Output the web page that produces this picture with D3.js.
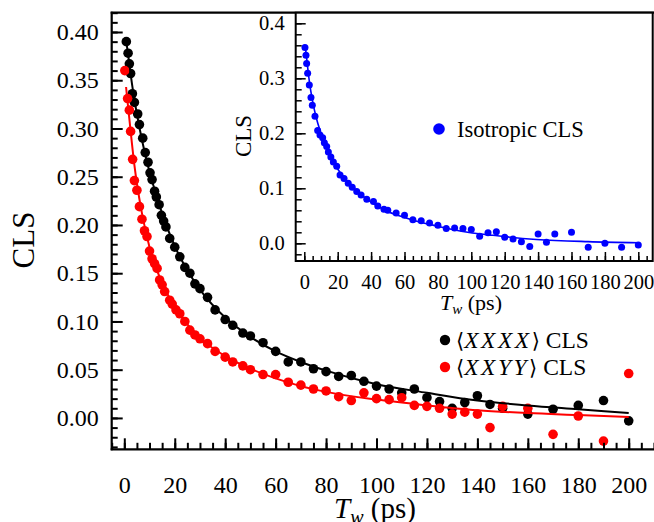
<!DOCTYPE html>
<html>
<head>
<meta charset="utf-8">
<script src="https://cdn.jsdelivr.net/npm/d3@7/dist/d3.min.js"></script>
<style>
  html, body { margin: 0; padding: 0; background: #fff; }
  svg { display: block; }
  svg text { font-family: "Liberation Serif", "Times New Roman", "DejaVu Serif", serif; fill: #000; }
</style>
</head>
<body>
<svg id="chart" width="654" height="522"></svg>
<script>
// ---- data: waiting time Tw (ps) and CLS values ----
const twXXXX = [0.8, 1.5, 2, 2.5, 3.2, 4, 5.3, 6, 7.3, 8.3, 9.4, 10.2, 11, 12, 12.7, 13.8, 14.7, 15.6, 16.5, 18,
  20, 22, 24, 26, 28, 30, 33, 36, 40, 43, 47, 50, 55, 60, 65, 70, 75, 80, 85, 90,
  95, 100, 105, 110, 115, 120, 125, 130, 135, 140, 145, 150, 160, 170, 180, 190, 200];
const clsXXXX = [0.390, 0.378, 0.367, 0.357, 0.336, 0.327, 0.315, 0.304, 0.290, 0.275, 0.265, 0.254, 0.247, 0.235, 0.229, 0.221, 0.210, 0.204, 0.198, 0.186,
  0.177, 0.167, 0.156, 0.150, 0.139, 0.134, 0.125, 0.112, 0.102, 0.096, 0.088, 0.085, 0.078, 0.069, 0.058, 0.058, 0.051, 0.048, 0.043, 0.044,
  0.038, 0.033, 0.030, 0.026, 0.030, 0.021, 0.017, 0.010, 0.016, 0.023, 0.014, 0.010, 0.004, 0.009, 0.013, 0.018, -0.003];

const twXXYY = [0.2, 1.3, 2, 2.5, 3.3, 4, 5, 6, 7, 8, 9, 10, 11, 12, 13, 14, 15, 16, 18, 19,
  20.5, 22, 24, 26, 28, 30, 33, 36, 40, 43, 47, 50, 55, 60, 65, 70, 75, 80, 85, 90,
  95, 100, 105, 110, 115, 120, 125, 130, 135, 140, 145, 150, 160, 170, 180, 190, 200];
const clsXXYY = [0.360, 0.331, 0.319, 0.297, 0.268, 0.246, 0.236, 0.219, 0.206, 0.194, 0.188, 0.173, 0.165, 0.160, 0.155, 0.143, 0.138, 0.131, 0.122, 0.118,
  0.112, 0.108, 0.100, 0.091, 0.086, 0.082, 0.077, 0.069, 0.063, 0.058, 0.054, 0.050, 0.045, 0.045, 0.037, 0.034, 0.030, 0.028, 0.022, 0.018,
  0.026, 0.020, 0.019, 0.021, 0.013, 0.012, 0.010, 0.004, 0.006, 0.004, -0.010, 0.012, 0.010, -0.017, 0.002, -0.024, 0.046];

const twIso = [0.4, 1, 1.4, 2, 3, 4, 4.8, 6.4, 8, 9.4, 11, 12, 13.4, 14.4, 15.9, 17.4, 19.4, 21.4, 23.8, 26.3,
  28.7, 31.4, 34, 37.4, 41.4, 44, 47.7, 50, 55, 60, 65, 70, 75, 80, 85, 90, 95, 100,
  105, 110, 115, 120, 125, 130, 135, 140, 145, 150, 160, 170, 180, 190, 200];
const clsIso = [0.356, 0.342, 0.327, 0.309, 0.288, 0.265, 0.251, 0.231, 0.205, 0.197, 0.192, 0.183, 0.176, 0.166, 0.157, 0.148, 0.140, 0.124, 0.118, 0.109,
  0.102, 0.094, 0.088, 0.080, 0.076, 0.068, 0.062, 0.060, 0.055, 0.051, 0.043, 0.041, 0.037, 0.033, 0.027, 0.028, 0.027, 0.025,
  0.013, 0.019, 0.021, 0.011, 0.008, 0.003, -0.006, 0.017, 0.002, 0.017, 0.020, -0.007, 0.000, -0.007, -0.003];

// fitted decay curves, sampled at knots
const fitTwXXXX = [0.8, 2, 3, 4, 5, 7, 10, 12, 15, 20, 25, 30, 40, 50, 60, 70, 80, 100, 120, 140, 160, 180, 200];
const fitXXXX   = [0.390, 0.367, 0.347, 0.330, 0.315, 0.288, 0.255, 0.237, 0.212, 0.178, 0.153, 0.133, 0.104, 0.084, 0.069, 0.058, 0.049, 0.035, 0.026, 0.018, 0.013, 0.009, 0.005];
const fitTwXXYY = [0.7, 1, 2, 3, 4, 5, 7, 10, 12, 15, 20, 25, 30, 40, 50, 60, 70, 80, 100, 120, 140, 160, 180, 200];
const fitXXYY   = [0.343, 0.335, 0.310, 0.285, 0.262, 0.243, 0.212, 0.177, 0.160, 0.140, 0.115, 0.097, 0.083, 0.064, 0.051, 0.041, 0.033, 0.027, 0.019, 0.013, 0.008, 0.005, 0.003, 0.001];
const fitTwIso  = [0.5, 1, 2, 3, 5, 7, 10, 15, 20, 25, 30, 40, 50, 60, 70, 80, 94, 113, 139, 170, 200];
const fitIso    = [0.358, 0.347, 0.320, 0.295, 0.258, 0.230, 0.200, 0.163, 0.135, 0.115, 0.099, 0.075, 0.058, 0.047, 0.038, 0.031, 0.022, 0.0145, 0.007, 0.003, 0.001];

// ticks and labels
const mainXTicks = [0, 20, 40, 60, 80, 100, 120, 140, 160, 180, 200];
const mainYTicks = [0.00, 0.05, 0.10, 0.15, 0.20, 0.25, 0.30, 0.35, 0.40];
const insetXTicks = [0, 20, 40, 60, 80, 100, 120, 140, 160, 180, 200];
const insetYTicks = [0.0, 0.1, 0.2, 0.3, 0.4];
const legendMain = [{ tag: "XXXX", color: "#000000" }, { tag: "XXYY", color: "#ff0000" }];
const legendIso = "Isotropic CLS";

const SERIF = '"Liberation Serif", "Times New Roman", serif';
const svg = d3.select("#chart");
svg.append("rect").attr("width", 654).attr("height", 522).attr("fill", "#fff");

// ---- main panel ----
const M = { left: 111.7, top: 12.7, bottom: 449.3 };
const x = d3.scaleLinear().domain([-5, 210.5]).range([M.left, M.left + 215.5 * 2.522]);
const y = d3.scaleLinear().domain([-0.0325, 0.42]).range([M.bottom, M.top]);

const gMain = svg.append("g");

function series(g, xs, ys, tw, vals, color, r) {
  const pts = tw.map((t, i) => [t, vals[i]]);
  g.append("g").selectAll("circle").data(pts).join("circle")
    .attr("cx", d => xs(d[0])).attr("cy", d => ys(d[1])).attr("r", r).attr("fill", color);
}
function fitLine(g, xs, ys, tw, vals, color, w) {
  const pts = tw.map((t, i) => [t, vals[i]]);
  g.append("path").datum(pts)
    .attr("d", d3.line().x(d => xs(d[0])).y(d => ys(d[1])).curve(d3.curveMonotoneX))
    .attr("fill", "none").attr("stroke", color).attr("stroke-width", w);
}

series(gMain, x, y, twXXXX, clsXXXX, "#000", 4.8);
series(gMain, x, y, twXXYY, clsXXYY, "#ff0000", 4.8);
fitLine(gMain, x, y, fitTwXXXX, fitXXXX, "#000", 2);
fitLine(gMain, x, y, fitTwXXYY, fitXXYY, "#ff0000", 2);

// main axes with inward ticks
const minorX = d3.range(-5, 211, 5);
const minorY = d3.range(-30, 421, 10).map(v => v / 1000);
gMain.append("g").attr("transform", `translate(0,${M.bottom})`)
  .call(d3.axisBottom(x).tickValues(minorX).tickSize(-6.5).tickFormat(""));
gMain.append("g").attr("class", "mx").attr("transform", `translate(0,${M.bottom})`)
  .call(d3.axisBottom(x).tickValues(mainXTicks).tickSize(-11).tickPadding(27).tickFormat(d3.format("d")));
gMain.append("g").attr("transform", `translate(${M.left},0)`)
  .call(d3.axisLeft(y).tickValues(minorY).tickSize(-6).tickFormat(""));
gMain.append("g").attr("class", "my").attr("transform", `translate(${M.left},0)`)
  .call(d3.axisLeft(y).tickValues(mainYTicks).tickSize(-11).tickPadding(13).tickFormat(d3.format(".2f")));
gMain.selectAll(".domain").remove();
gMain.selectAll(".tick line").attr("stroke", "#000").attr("stroke-width", 2);
gMain.selectAll(".mx text, .my text").style("font-size", "24px").style("font-family", SERIF);

// frame lines
gMain.append("line").attr("x1", M.left).attr("x2", M.left).attr("y1", M.top - 1).attr("y2", M.bottom + 1).attr("stroke", "#000").attr("stroke-width", 2.2);
gMain.append("line").attr("x1", M.left - 1).attr("x2", 654).attr("y1", M.bottom).attr("y2", M.bottom).attr("stroke", "#000").attr("stroke-width", 2.2);
gMain.append("line").attr("x1", M.left - 1).attr("x2", 654).attr("y1", M.top).attr("y2", M.top).attr("stroke", "#000").attr("stroke-width", 2.2);

// axis titles
svg.append("text").attr("transform", "translate(34,240) rotate(-90)").attr("text-anchor", "middle")
  .style("font-size", "31px").style("font-family", SERIF).text("CLS");
const xt = svg.append("text").attr("x", 375).attr("y", 518).attr("text-anchor", "middle")
  .style("font-size", "29px").style("font-family", SERIF);
xt.append("tspan").attr("font-style", "italic").text("T");
xt.append("tspan").attr("font-style", "italic").style("font-size", "20px").attr("dy", 6).text("w");
xt.append("tspan").attr("dy", -6).text(" (ps)");

// main legend
legendMain.forEach((d, i) => {
  const ly = 340 + i * 27;
  svg.append("circle").attr("cx", 445).attr("cy", ly).attr("r", 5.2).attr("fill", d.color);
  const t = svg.append("text").attr("x", 456).attr("y", ly + 8).style("font-size", "23.5px").style("font-family", SERIF);
  t.append("tspan").style("font-family", '"DejaVu Serif", serif').style("font-size", "21px").text("\u27E8");
  t.append("tspan").attr("font-style", "italic").attr("letter-spacing", 2.5).text(d.tag);
  t.append("tspan").style("font-family", '"DejaVu Serif", serif').style("font-size", "21px").text("\u27E9");
  t.append("tspan").text(" CLS");
});

// ---- inset panel ----
const I = { left: 295.7, right: 652.7, top: 12.7, bottom: 261 };
const xi = d3.scaleLinear().domain([0, 200]).range([304.3, 638.3]);
const yi = d3.scaleLinear().domain([0, 0.4]).range([243.3, 23.3]);
const gIn = svg.append("g");
gIn.append("rect").attr("x", I.left).attr("y", I.top).attr("width", I.right - I.left).attr("height", I.bottom - I.top).attr("fill", "#fff");

fitLine(gIn, xi, yi, fitTwIso, fitIso, "#0000ff", 1.6);
series(gIn, xi, yi, twIso, clsIso, "#0000ff", 3.5);

const minorXi = d3.range(0, 206, 5);
const minorYi = d3.range(-2, 42, 2).map(v => v / 100);
gIn.append("g").attr("transform", `translate(0,${I.bottom})`)
  .call(d3.axisBottom(xi).tickValues(minorXi).tickSize(-5).tickFormat(""));
gIn.append("g").attr("class", "ix").attr("transform", `translate(0,${I.bottom})`)
  .call(d3.axisBottom(xi).tickValues(insetXTicks).tickSize(-9).tickPadding(13).tickFormat(d3.format("d")));
gIn.append("g").attr("transform", `translate(${I.left},0)`)
  .call(d3.axisLeft(yi).tickValues(minorYi).tickSize(-6).tickFormat(""));
gIn.append("g").attr("class", "iy").attr("transform", `translate(${I.left},0)`)
  .call(d3.axisLeft(yi).tickValues(insetYTicks).tickSize(-10).tickPadding(11).tickFormat(d3.format(".1f")));
gIn.selectAll(".domain").remove();
gIn.selectAll(".tick line").attr("stroke", "#000").attr("stroke-width", 1.5);
gIn.selectAll(".ix text, .iy text").style("font-size", "20.5px").style("font-family", SERIF);

gIn.append("rect").attr("x", I.left).attr("y", I.top).attr("width", I.right - I.left).attr("height", I.bottom - I.top)
  .attr("fill", "none").attr("stroke", "#000").attr("stroke-width", 2);

svg.append("text").attr("transform", "translate(251,136) rotate(-90)").attr("text-anchor", "middle")
  .style("font-size", "23px").style("font-family", SERIF).text("CLS");
const xti = svg.append("text").attr("x", 471).attr("y", 310).attr("text-anchor", "middle")
  .style("font-size", "22px").style("font-family", SERIF);
xti.append("tspan").attr("font-style", "italic").text("T");
xti.append("tspan").attr("font-style", "italic").style("font-size", "15px").attr("dy", 4).text("w");
xti.append("tspan").attr("dy", -4).text(" (ps)");

svg.append("circle").attr("cx", 439).attr("cy", 129).attr("r", 5.8).attr("fill", "#0000ff");
svg.append("text").attr("x", 457).attr("y", 136.5).style("font-size", "22.5px").style("font-family", SERIF).text(legendIso);
</script>
</body>
</html>
